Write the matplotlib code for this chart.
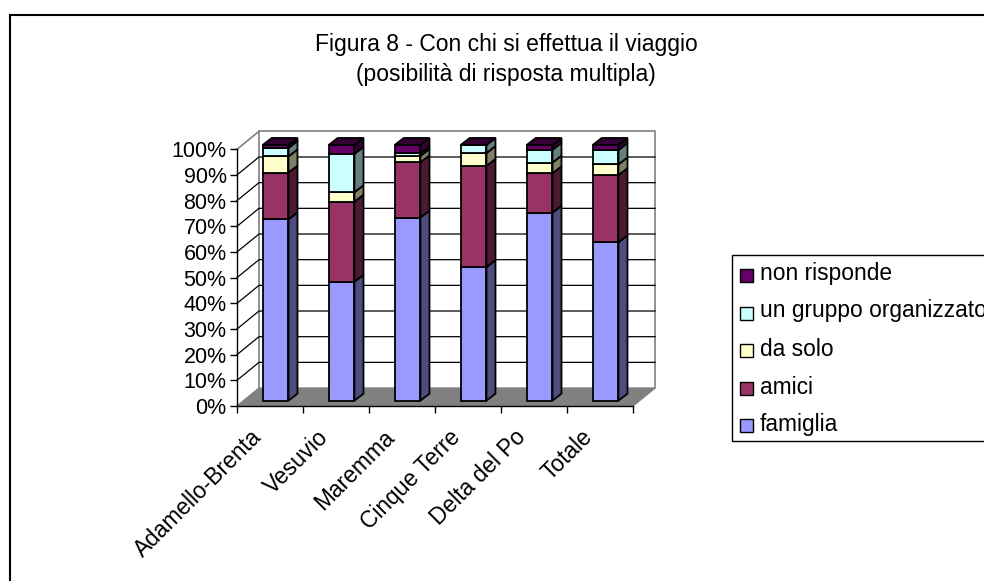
import matplotlib
matplotlib.use('Agg')
import matplotlib.pyplot as plt
from matplotlib.patches import Polygon, Rectangle

plt.rcParams['font.family'] = ['Liberation Sans', 'DejaVu Sans']

categories = ['Adamello-Brenta', 'Vesuvio', 'Maremma', 'Cinque Terre', 'Delta del Po', 'Totale']
famiglia = [70.9, 46.5, 71.6, 52.2, 73.5, 61.9]
amici = [18.3, 31.3, 21.6, 39.6, 15.4, 26.3]
da_solo = [6.3, 3.7, 2.5, 5.0, 4.2, 4.2]
gruppo = [3.3, 15.0, 1.0, 3.2, 5.0, 5.6]
non_risponde = [1.2, 3.5, 3.3, 0.0, 1.9, 2.0]

series = [
    ('famiglia', famiglia, '#9999FF', '#4D4D80'),
    ('amici', amici, '#993366', '#4D1A33'),
    ('da solo', da_solo, '#FFFFCC', '#808066'),
    ('un gruppo organizzato', gruppo, '#CCFFFF', '#668080'),
    ('non risponde', non_risponde, '#660066', '#330033'),
]

W, H = 984, 581
fig = plt.figure(figsize=(W / 100, H / 100), dpi=100)
fig.add_artist(Rectangle((10 / W, -0.01), 1.1, 1 - 15 / H + 0.01, transform=fig.transFigure,
                         fc='none', ec='black', lw=1.5))

# front plane of the fake 3d box
ax = fig.add_axes([237 / W, 1 - 406 / H, 396 / W, 256.7 / H])
ax.set_xlim(0, 6)
ax.set_ylim(0, 100)
ax.patch.set_visible(False)
for s in ['top', 'right']:
    ax.spines[s].set_visible(False)
for s in ['left', 'bottom']:
    ax.spines[s].set_linewidth(1)

# depth of the box and of the bars, in data units
box_dx, box_dy = 22 / 66, 7.0
bar_dx, bar_dy = 9 / 66, 2.7
bar_x0, bar_w, bar_y0 = 0.39, 0.39, 2.1
bar_scale = 255.7 / 256.7


def poly(pts, fc, ec='black', lw=1.0, z=2):
    ax.add_patch(Polygon(pts, closed=True, fc=fc, ec=ec, lw=lw, zorder=z, clip_on=False, joinstyle='miter'))


# floor and walls
poly([(0, 0), (6, 0), (6 + box_dx, box_dy), (box_dx, box_dy)], '#808080', ec='#808080', z=1)
ax.plot([box_dx, box_dx, 6 + box_dx, 6 + box_dx], [box_dy, 100 + box_dy, 100 + box_dy, box_dy],
        color='#808080', lw=1.2, clip_on=False, zorder=1)
ax.plot([0, box_dx], [100, 100 + box_dy], color='#808080', lw=1.2, clip_on=False, zorder=1)
for g in range(10, 100, 10):
    ax.plot([0, box_dx, 6 + box_dx], [g, g + box_dy, g + box_dy], color='black', lw=0.9,
            clip_on=False, zorder=1.5)

# stacked bars, bottom to top
for i in range(len(categories)):
    x0 = i + bar_x0
    x1 = x0 + bar_w
    bottom = bar_y0
    for name, vals, col, dark in series:
        v = vals[i] * bar_scale
        if v > 0:
            top = bottom + v
            poly([(x0, bottom), (x1, bottom), (x1, top), (x0, top)], col, lw=1.3, z=3)
            poly([(x1, bottom), (x1 + bar_dx, bottom + bar_dy), (x1 + bar_dx, top + bar_dy), (x1, top)],
                 dark, lw=1.3, z=3)
            bottom = top
    # the lid always takes the colour of the last series
    poly([(x0, bottom), (x1, bottom), (x1 + bar_dx, bottom + bar_dy), (x0 + bar_dx, bottom + bar_dy)],
         series[-1][3], lw=1.3, z=3)

ax.set_yticks(range(0, 101, 10))
ax.set_yticklabels([f'{t}%' for t in range(0, 101, 10)], fontsize=15.5, color='black')
ax.tick_params(axis='y', length=5, width=1, pad=2.5)
ax.set_xticks(range(0, 7))
ax.set_xticklabels([])
ax.tick_params(axis='x', length=5, width=1)

# category labels, rotated, anchored at their right end
for i, c in enumerate(categories):
    ax.annotate(c, xy=(i + 0.5, 0), xytext=(-14, -14), textcoords='offset points', rotation=45,
                rotation_mode='anchor', ha='right', va='top', fontsize=16.4)

fig.text(506 / W, 1 - 45 / H, 'Figura 8 - Con chi si effettua il viaggio', ha='center', va='center', fontsize=16.5)
fig.text(506 / W, 1 - 75 / H, '(posibilità di risposta multipla)', ha='center', va='center', fontsize=16.5)

# legend box, runs off the right edge like the original
fig.add_artist(Rectangle((732 / W, 1 - 441 / H), 0.5, 186 / H, transform=fig.transFigure,
                         fc='white', ec='black', lw=1))
leg_text_y = [273, 311, 349, 387, 424]
leg_box_y = [275.5, 313.5, 350.5, 388, 425.5]
for (name, vals, col, dark), ty, by in zip(reversed(series), leg_text_y, leg_box_y):
    fig.add_artist(Rectangle((740 / W, 1 - (by + 6.5) / H), 13 / W, 13 / H, transform=fig.transFigure,
                             fc=col, ec='black', lw=1))
    fig.text(760 / W, 1 - ty / H, name, ha='left', va='center', fontsize=16.4)

fig.savefig('out.png', dpi=100)
